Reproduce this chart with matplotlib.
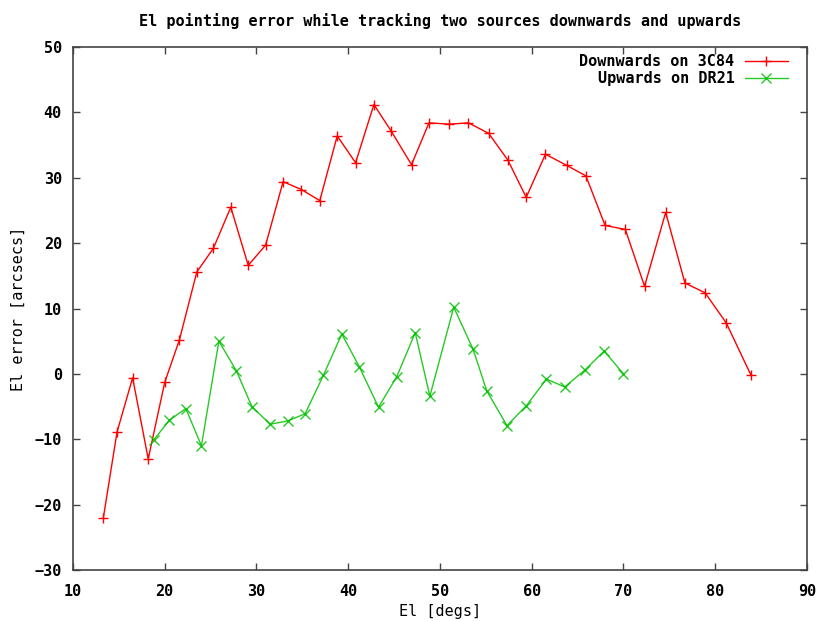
import matplotlib
matplotlib.use("Agg")
import matplotlib.pyplot as plt

# downwards track on 3C84
down_el = [13.3, 14.8, 16.5, 18.2, 20.0, 21.6, 23.5, 25.3, 27.2, 29.1, 31.0, 32.9,
           34.9, 36.9, 38.8, 40.8, 42.8, 44.7, 46.9, 48.8, 51.0, 53.1, 55.3, 57.4,
           59.4, 61.5, 63.8, 65.9, 68.0, 70.2, 72.3, 74.6, 76.7, 78.9, 81.2, 83.9]
down_err = [-22.1, -8.9, -0.6, -13.0, -1.3, 5.2, 15.6, 19.2, 25.5, 16.6, 19.7, 29.4,
            28.2, 26.5, 36.4, 32.3, 41.2, 37.1, 32.0, 38.4, 38.2, 38.4, 36.8, 32.7,
            27.0, 33.6, 31.9, 30.3, 22.7, 22.1, 13.4, 24.7, 13.9, 12.4, 7.8, -0.2]

# upwards track on DR21
up_el = [18.8, 20.5, 22.3, 24.0, 25.9, 27.8, 29.5, 31.5, 33.4, 35.3, 37.3, 39.3,
         41.2, 43.3, 45.3, 47.3, 48.9, 51.5, 53.6, 55.1, 57.3, 59.4, 61.6, 63.6,
         65.8, 67.9, 70.0]
up_err = [-10.1, -7.1, -5.3, -11.0, 5.0, 0.5, -5.0, -7.7, -7.2, -6.1, -0.2, 6.1,
          1.1, -5.1, -0.4, 6.3, -3.4, 10.2, 3.8, -2.6, -7.9, -4.9, -0.8, -2.0,
          0.6, 3.5, 0.0]

plt.rcParams['font.family'] = 'DejaVu Sans Mono'
plt.rcParams['font.weight'] = 'bold'
plt.rcParams['font.size'] = 10.9

fig = plt.figure(figsize=(8.21, 6.21), dpi=100)
ax = fig.add_axes([0.0889, 0.0821, 0.894, 0.8422])

ax.plot(down_el, down_err, color='#ff0000', lw=1.0, marker='+', ms=7, mew=1.0,
        label='Downwards on 3C84')
ax.plot(up_el, up_err, color='#00c000', lw=1.0, marker='x', ms=6.5, mew=1.0,
        label='Upwards on DR21', alpha=0.85)

ax.set_xlim(10, 90)
ax.set_ylim(-30, 50)
ax.set_xticks(range(10, 91, 10))
ax.set_yticks(range(-30, 51, 10))
ax.tick_params(direction='in', length=5, width=1, top=True, right=True,
               color='#444444', pad=8)
ax.tick_params(axis='x', pad=10)
for s in ax.spines.values():
    s.set_color('#444444')
    s.set_linewidth(1.2)

ax.set_xlabel('El [degs]', labelpad=4)
ax.set_ylabel('El error [arcsecs]', labelpad=6)
ax.set_title('El pointing error while tracking two sources downwards and upwards',
             pad=15, fontsize=10.9, fontweight='bold')

ax.legend(loc='upper right', bbox_to_anchor=(0.986, 1.004), frameon=False,
          markerfirst=False, handlelength=2.8, borderaxespad=0.2,
          labelspacing=0.12, handletextpad=0.7)

fig.savefig('out.png', dpi=100)
